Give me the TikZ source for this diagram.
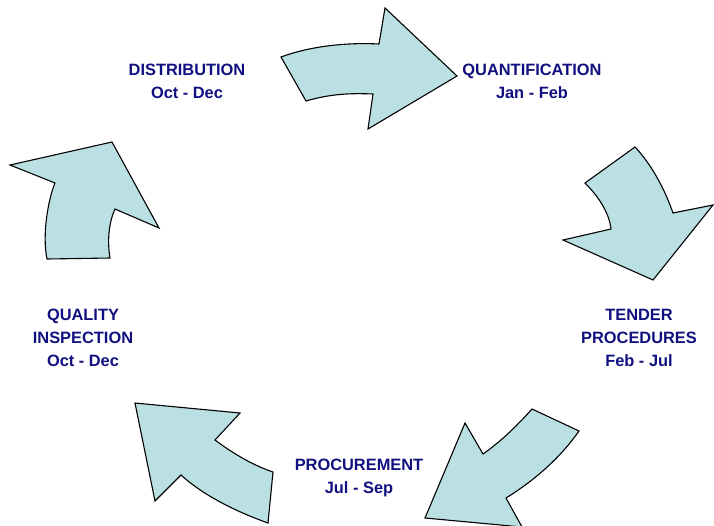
\documentclass[tikz,border=0pt]{standalone}
\usepackage{fontspec}
\setmainfont{Liberation Sans}
\usepackage{xcolor}
\definecolor{arrowfill}{RGB}{187,224,227}
\definecolor{labelblue}{RGB}{16,16,128}

\begin{document}
\begin{tikzpicture}[x=1pt,y=-1pt,
	cyclearrow/.style={fill=arrowfill,draw=black,line width=1.1pt,line join=miter},
	steplabel/.style={align=center,text=labelblue,font=\fontsize{16.4}{23}\selectfont\bfseries,inner sep=0pt}]
	
	%--- Khung ---
	\useasboundingbox (0,0) rectangle (714,525);
	
	%--- Mũi tên trên ---
	\draw[cyclearrow] (281,57) -- (306,101)
		.. controls (330,94) and (350,93) .. (373,94)
		-- (368,129) -- (457,76) -- (385,8) -- (379,44)
		.. controls (340,42) and (305,48) .. (281,57) -- cycle;
	
	%--- Mũi tên phải ---
	\draw[cyclearrow] (585,183)
		.. controls (598,196) and (609,212) .. (611,229)
		-- (563,240) -- (653,280) -- (713,205) -- (673,213)
		.. controls (665,190) and (652,165) .. (635,147) -- cycle;
	
	%--- Mũi tên dưới phải ---
	\draw[cyclearrow] (532,409)
		.. controls (515,428) and (500,442) .. (483,454)
		-- (465,423) -- (425,518) -- (522,527) -- (506,498)
		.. controls (535,480) and (560,458) .. (579,431) -- cycle;
	
	%--- Mũi tên dưới trái ---
	\draw[cyclearrow] (135,403) -- (240,413) -- (215,440)
		.. controls (235,455) and (255,466) .. (273,472)
		-- (268,523)
		.. controls (240,513) and (205,497) .. (181,475)
		-- (155,501) -- cycle;
	
	%--- Mũi tên trái ---
	\draw[cyclearrow] (47,259) -- (110,258)
		.. controls (107,240) and (109,222) .. (115,209)
		-- (159,228) -- (112,142) -- (10,165) -- (55,183)
		.. controls (48,200) and (42,235) .. (47,259) -- cycle;
	
	%--- Nhãn ---
	\node[steplabel] (distribution) at (187,81) {DISTRIBUTION\\Oct - Dec};
	\node[steplabel] (quantification) at (532,81) {QUANTIFICATION\\Jan - Feb};
	\node[steplabel] (tender) at (639,338) {TENDER\\PROCEDURES\\Feb - Jul};
	\node[steplabel] (quality) at (83,338) {QUALITY\\INSPECTION\\Oct - Dec};
	\node[steplabel] (procurement) at (359,478) {PROCUREMENT\\Jul - Sep};
	
\end{tikzpicture}
\end{document}
